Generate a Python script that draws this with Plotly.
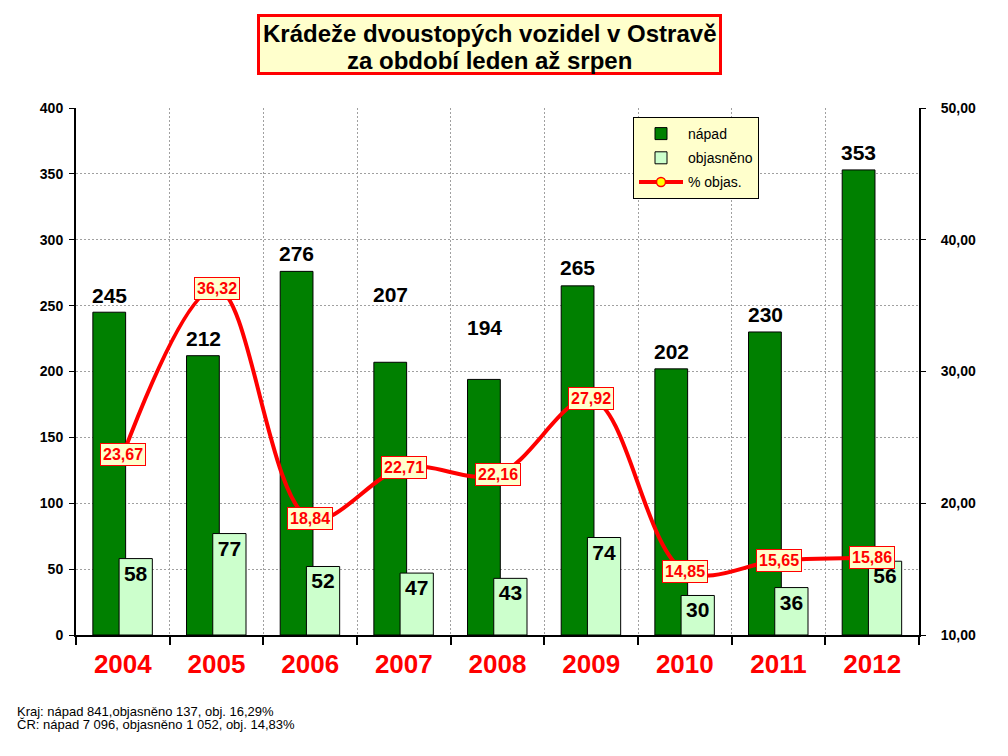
import plotly.graph_objects as go

years = ["2004", "2005", "2006", "2007", "2008", "2009", "2010", "2011", "2012"]
napad = [245, 212, 276, 207, 194, 265, 202, 230, 353]
objasneno = [58, 77, 52, 47, 43, 74, 30, 36, 56]
pct_objas = [23.67, 36.32, 18.84, 22.71, 22.16, 27.92, 14.85, 15.65, 15.86]

title_lines = ["Krádeže dvoustopých vozidel v Ostravě", "za období leden až srpen"]
footnotes = ["Kraj: nápad 841,objasněno 137, obj. 16,29%",
             "ČR: nápad 7 096, objasněno 1 052, obj. 14,83%"]

# label lift (px) above the nápad bar tops, as placed in the original
label_lift = [17, 17, 18, 68, 52, 18, 17, 17, 17]

FONT = "Arial, Liberation Sans, sans-serif"
W, H = 1008, 756
L, R, T, B = 76, 89, 108, 121
PW, PH = W - L - R, H - T - B


def px_x(x):
    return (x - L) / PW


def px_y(y):
    return (H - B - y) / PH


fig = go.Figure()

fig.add_trace(go.Bar(
    x=years, y=napad, name="nápad",
    marker=dict(color="#008000", line=dict(color="black", width=1)),
    offset=-0.32, width=0.35,
    legendgroup="a",
))
fig.add_trace(go.Bar(
    x=years, y=objasneno, name="objasněno",
    marker=dict(color="#CCFFCC", line=dict(color="black", width=1)),
    offset=-0.04, width=0.355,
    text=[str(v) for v in objasneno], textposition="inside",
    insidetextanchor="end", constraintext="none",
    textfont=dict(family=FONT, size=21, color="black", weight="bold"),
    legendgroup="b",
))
fig.add_trace(go.Scatter(
    x=years, y=pct_objas, name="% objas.", yaxis="y2",
    mode="lines+markers",
    line=dict(color="#FF0000", width=4, shape="spline", smoothing=1),
    marker=dict(color="#FFFF00", size=9, line=dict(color="#FF0000", width=1.5)),
    legendgroup="c",
))

annotations = []
for i, (v, lift) in enumerate(zip(napad, label_lift)):
    annotations.append(dict(
        x=i, y=v, xref="x", yref="y", text=str(v), showarrow=False,
        xshift=-13.5, yshift=lift, yanchor="middle", xanchor="center",
        font=dict(family=FONT, size=21, color="black", weight="bold"),
    ))
for i, p in enumerate(pct_objas):
    annotations.append(dict(
        x=i, y=p, xref="x", yref="y2", text=f"{p:.2f}".replace(".", ","),
        showarrow=False, yanchor="middle", xanchor="center",
        bgcolor="#FFFFCC", bordercolor="#FF0000", borderwidth=1, borderpad=2,
        font=dict(family=FONT, size=16, color="#FF0000", weight="bold"),
    ))
# title text lines
for line, yy in zip(title_lines, [33.5, 60.5]):
    annotations.append(dict(
        x=px_x(489.5), y=px_y(yy), xref="paper", yref="paper",
        text=line, showarrow=False, xanchor="center", yanchor="middle",
        font=dict(family=FONT, size=24, color="black", weight="bold"),
    ))
# footnotes
for line, yy in zip(footnotes, [711, 724.5]):
    annotations.append(dict(
        x=px_x(15), y=px_y(yy), xref="paper", yref="paper",
        text=line, showarrow=False, xanchor="left", yanchor="middle",
        font=dict(family=FONT, size=13, color="black"),
    ))

shapes = [dict(
    type="rect", xref="paper", yref="paper",
    x0=px_x(258.5), x1=px_x(720.5), y0=px_y(15.5), y1=px_y(73.5),
    fillcolor="#FFFFCC", line=dict(color="#FF0000", width=3), layer="above",
)]

fig.update_layout(
    width=W, height=H,
    margin=dict(l=L, r=R, t=T, b=B, pad=0),
    paper_bgcolor="white", plot_bgcolor="white",
    separators=", ",
    barmode="overlay",
    showlegend=True,
    legend=dict(
        x=px_x(633), y=px_y(117), xanchor="left", yanchor="top",
        bgcolor="#FFFFCC", bordercolor="black", borderwidth=1,
        font=dict(family=FONT, size=14, color="black"),
        traceorder="grouped", tracegroupgap=3, itemwidth=44,
        entrywidth=140, entrywidthmode="pixels",
    ),
    xaxis=dict(
        type="category", range=[-0.5, 8.5],
        tickson="boundaries", ticks="outside", ticklen=8, tickwidth=2, tickcolor="black",
        showline=True, linecolor="black", linewidth=2,
        showgrid=True, gridcolor="#A0A0A0", griddash="2px,2px", gridwidth=1,
        tickfont=dict(family=FONT, size=26, color="#FF0000", weight="bold"),
        ticklabelstandoff=5,
    ),
    yaxis=dict(
        range=[0, 400], dtick=50, ticks="outside", ticklen=5, tickcolor="black",
        showline=True, linecolor="black", linewidth=2,
        showgrid=True, gridcolor="#A0A0A0", griddash="2px,2px", gridwidth=1,
        zeroline=False,
        tickfont=dict(family=FONT, size=14, color="black", weight="bold"),
        ticklabelstandoff=3,
    ),
    yaxis2=dict(
        range=[10, 50], dtick=10, tickformat=".2f", overlaying="y", side="right",
        ticks="outside", ticklen=5, tickcolor="black",
        showline=True, linecolor="black", linewidth=2,
        showgrid=False, zeroline=False,
        tickfont=dict(family=FONT, size=14, color="black", weight="bold"),
        ticklabelstandoff=12,
    ),
    annotations=annotations,
    shapes=shapes,
)

fig.write_html("out.html")
